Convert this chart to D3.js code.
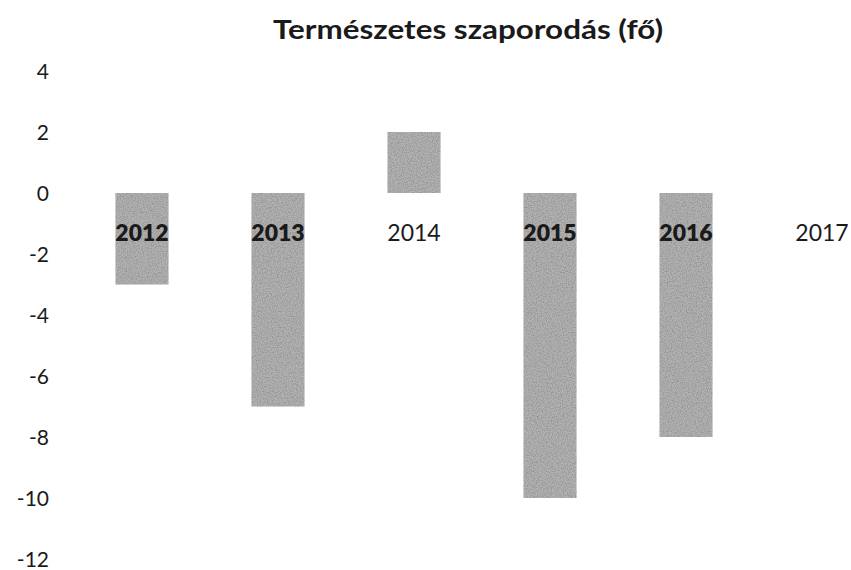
<!DOCTYPE html>
<html>
<head>
<meta charset="utf-8">
<script src="https://cdn.jsdelivr.net/npm/d3@7"></script>
<style>
html,body{margin:0;padding:0;background:#fff;}
svg{display:block;}
text{font-family:Lato,"Open Sans",sans-serif;fill:#1a1a1a;}
</style>
</head>
<body>
<svg id="chart" width="851" height="570"></svg>
<script>
const title = "Természetes szaporodás (fő)";
const categories = ["2012","2013","2014","2015","2016","2017"];
const values = [-3, -7, 2, -10, -8, 0];
const yTicks = [4, 2, 0, -2, -4, -6, -8, -10, -12];

const svg = d3.select("#chart");

// grainy texture like the scanned original
const defs = svg.append("defs");
const f = defs.append("filter").attr("id","grain").attr("x","0").attr("y","0").attr("width","1").attr("height","1");
f.append("feTurbulence").attr("type","fractalNoise").attr("baseFrequency","0.8").attr("numOctaves","2").attr("seed","3").attr("result","noise");
f.append("feColorMatrix").attr("in","noise").attr("type","matrix")
  .attr("values","0 0 0 0 0  0 0 0 0 0  0 0 0 0 0  0 0 0 0.8 -0.28").attr("result","dots");
f.append("feComposite").attr("in","dots").attr("in2","SourceGraphic").attr("operator","in").attr("result","dotsIn");
f.append("feMerge").selectAll("feMergeNode").data(["SourceGraphic","dotsIn"]).enter()
  .append("feMergeNode").attr("in", d=>d);

const x = d3.scaleBand().domain(categories).range([74, 890]).paddingInner(0.61).paddingOuter(0.305);
const y = d3.scaleLinear().domain([-12, 4]).range([559, 71]);

// y axis (labels only)
const yAxis = d3.axisLeft(y).tickValues(yTicks).tickSize(0).tickPadding(0).tickFormat(d => String(d));
const gy = svg.append("g").attr("transform","translate(49,0)").call(yAxis);
gy.select(".domain").remove();
gy.selectAll("text").style("font-family","Lato,'Open Sans',sans-serif").style("font-size","21px").attr("fill","#1a1a1a").attr("dy","0.35em");

// bars
const rows = categories.map((c,i)=>({c, v: values[i]}));
svg.append("g").selectAll("rect").data(rows).enter()
  .append("rect")
  .attr("x", d => x(d.c))
  .attr("width", x.bandwidth())
  .attr("y", d => y(Math.max(0, d.v)))
  .attr("height", d => Math.abs(y(d.v) - y(0)))
  .attr("fill", "#b3b3b3")
  .attr("filter","url(#grain)");

// category labels near zero line
svg.append("g").selectAll("text").data(rows).enter()
  .append("text")
  .attr("x", d => x(d.c) + x.bandwidth()/2)
  .attr("y", y(-1.3))
  .attr("dy","0.35em")
  .attr("text-anchor","middle")
  .style("font-size","23px")
  .style("font-weight", d => d.v < 0 ? "800" : "400")
  .attr("fill", d => d.v < 0 ? "#111" : "#1a1a1a")
  .text(d => d.c);

// title
svg.append("text")
  .attr("x", 468).attr("y", 30)
  .attr("dy","0.35em")
  .attr("text-anchor","middle")
  .attr("textLength", 390)
  .attr("lengthAdjust","spacingAndGlyphs")
  .style("font-size","26px")
  .style("font-weight","700")
  .text(title);
</script>
</body>
</html>
